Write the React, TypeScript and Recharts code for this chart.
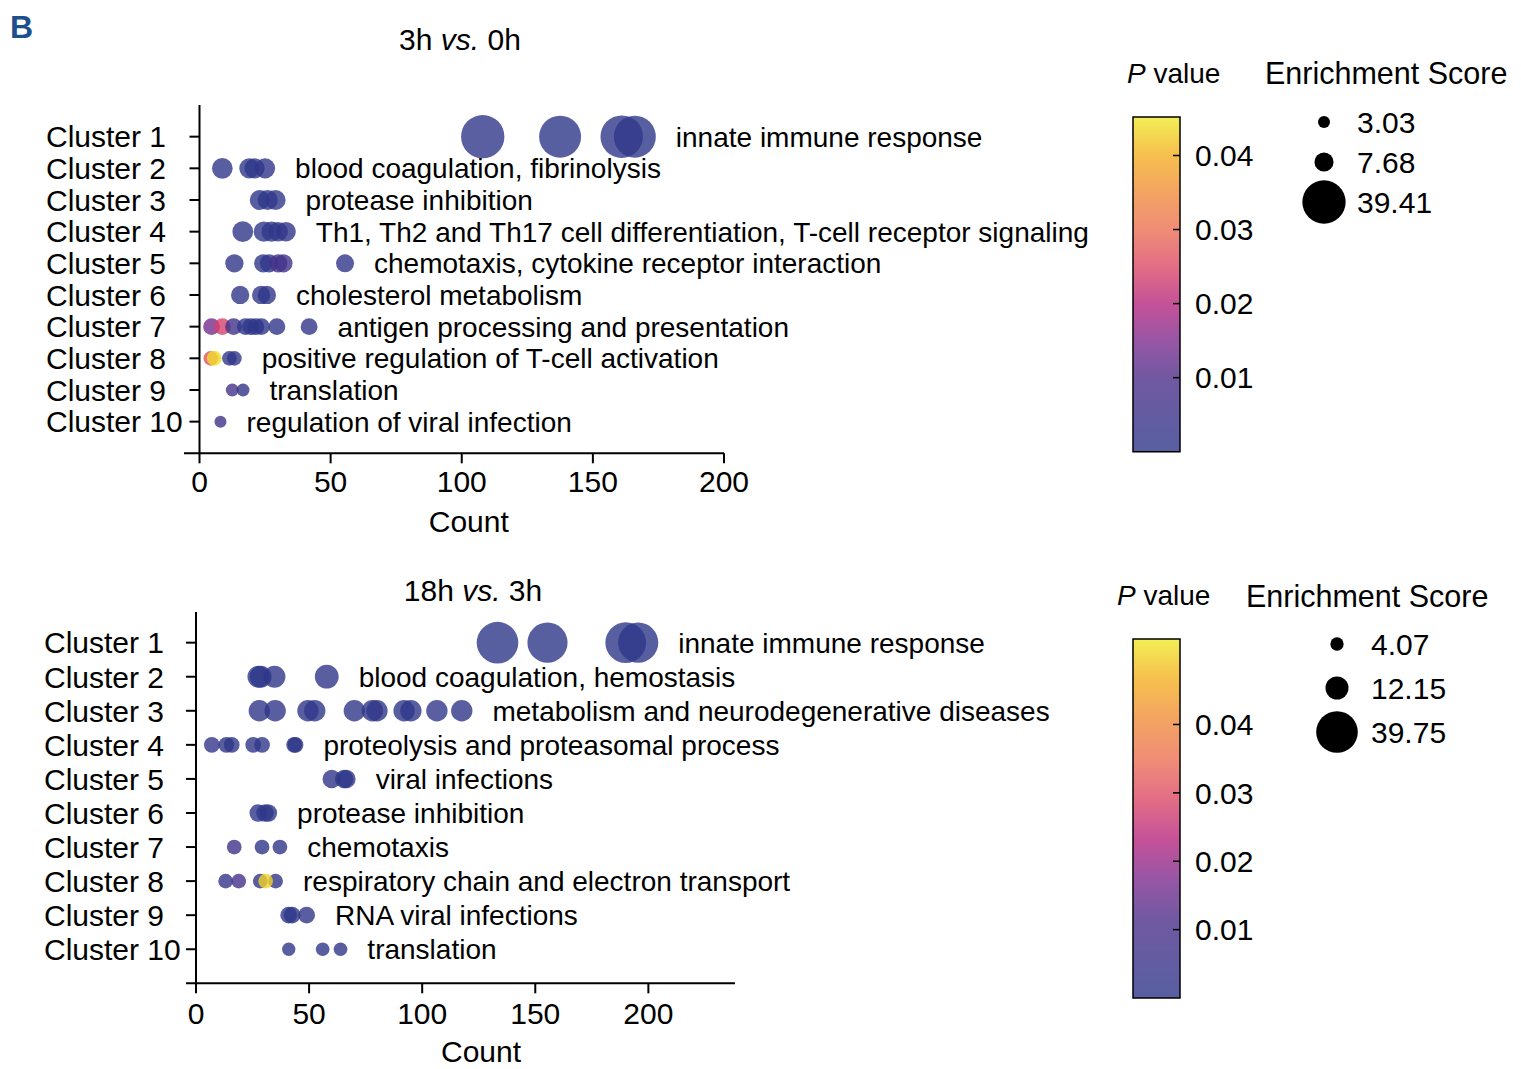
import React from "react";
import {
  ScatterChart,
  Scatter,
  XAxis,
  YAxis,
  ZAxis,
  ReferenceLine,
  BarChart,
  Bar,
} from "recharts";

const FONT = '"Liberation Sans", Arial, Helvetica, sans-serif';

// rows shared by both panels
const clusters = [1, 2, 3, 4, 5, 6, 7, 8, 9, 10];
const countTicks = [0, 50, 100, 150, 200];
const pTicks = [0.01, 0.02, 0.03, 0.04];

// 3h vs. 0h : [cluster, count, enrichment score, P value]
const bubbles3h: number[][] = [
  [1, 108, 39.41, 0.0005], [1, 137.5, 37, 0.0004], [1, 161, 38, 0.0006], [1, 166, 37, 0.0003],
  [2, 8.7, 9, 0.001], [2, 19, 8.5, 0.0004], [2, 21, 8.5, 0.0003], [2, 25, 8.5, 0.0012],
  [3, 23, 8.5, 0.0004], [3, 26, 8.5, 0.0003], [3, 29, 8.5, 0.0006],
  [4, 16.5, 9, 0.001], [4, 24.5, 8.5, 0.0005], [4, 27.5, 8.5, 0.0003], [4, 30, 8, 0.0006], [4, 33, 8, 0.0012],
  [5, 13.3, 7, 0.0012], [5, 24.3, 7, 0.0005], [5, 26.5, 7, 0.0004], [5, 30, 7, 0.008], [5, 32, 7, 0.006], [5, 55.5, 6.8, 0.0012],
  [6, 15.5, 7, 0.001], [6, 23.5, 7, 0.0006], [6, 25.7, 7, 0.0008],
  [7, 4.6, 6, 0.014], [7, 8.7, 6, 0.024], [7, 13, 6, 0.006], [7, 17.5, 6, 0.0005], [7, 19.5, 6, 0.0004],
  [7, 21.5, 6, 0.0003], [7, 23.6, 6, 0.0008], [7, 29.5, 6, 0.0012], [7, 41.8, 6, 0.002],
  [8, 4.3, 4.5, 0.026], [8, 5.6, 4.7, 0.044], [8, 11.4, 4.5, 0.0005], [8, 13.3, 4.5, 0.001],
  [9, 12.5, 3.5, 0.007], [9, 16.6, 3.5, 0.002],
  [10, 8, 3.03, 0.006],
];
const terms3h = [
  "innate immune response",
  "blood coagulation, fibrinolysis",
  "protease inhibition",
  "Th1, Th2 and Th17 cell differentiation, T-cell receptor signaling",
  "chemotaxis, cytokine receptor interaction",
  "cholesterol metabolism",
  "antigen processing and presentation",
  "positive regulation of T-cell activation",
  "translation",
  "regulation of viral infection",
];
const scoreLegend3h = [3.03, 7.68, 39.41];
const pMax3h = 0.0452;

// 18h vs. 3h
const bubbles18h: number[][] = [
  [1, 133.3, 39.75, 0.0005], [1, 155.4, 37, 0.0005], [1, 190, 38, 0.0004], [1, 195.5, 37, 0.0003],
  [2, 27.6, 11, 0.0003], [2, 28.6, 11, 0.0004], [2, 34.7, 11, 0.001], [2, 57.8, 13, 0.0012],
  [3, 28, 10.5, 0.001], [3, 35, 10.5, 0.0012], [3, 49.5, 10.5, 0.001], [3, 52.5, 10.5, 0.0004],
  [3, 70, 10.5, 0.0012], [3, 78, 10.5, 0.0005], [3, 80, 10.5, 0.0008], [3, 92, 10.5, 0.0005],
  [3, 95, 10.5, 0.0004], [3, 106.5, 10.5, 0.0006], [3, 117.5, 10.5, 0.0012],
  [4, 7, 5.7, 0.002], [4, 13.4, 5.7, 0.0012], [4, 15.8, 5.7, 0.001], [4, 25.3, 5.7, 0.0012],
  [4, 29.2, 5.7, 0.0006], [4, 43.4, 5.7, 0.0003], [4, 44, 5.7, 0.0004],
  [5, 60, 7.8, 0.0012], [5, 65.5, 7.8, 0.0005], [5, 66.5, 7.8, 0.0004],
  [6, 27.5, 7, 0.001], [6, 30.5, 7, 0.0005], [6, 32, 7, 0.0004],
  [7, 16.9, 5, 0.007], [7, 29.2, 5, 0.0012], [7, 37.1, 5, 0.001],
  [8, 13.1, 5, 0.002], [8, 18.9, 5, 0.008], [8, 28.4, 5, 0.001], [8, 35.2, 5, 0.0012], [8, 30.8, 5, 0.05],
  [9, 41, 6.5, 0.0003], [9, 42.5, 6.5, 0.0004], [9, 48.9, 6.5, 0.0012],
  [10, 41, 4.07, 0.0012], [10, 56, 4.3, 0.001], [10, 63.9, 4.3, 0.0012],
];
const terms18h = [
  "innate immune response",
  "blood coagulation, hemostasis",
  "metabolism and neurodegenerative diseases",
  "proteolysis and proteasomal process",
  "viral infections",
  "protease inhibition",
  "chemotaxis",
  "respiratory chain and electron transport",
  "RNA viral infections",
  "translation",
];
const scoreLegend18h = [4.07, 12.15, 39.75];
const pMax18h = 0.0525;

// plasma-like colour map, position 0..1 of the P value scale
const pColors: [number, string][] = [
  [0, "#2d378a"],
  [0.22, "#4d2f8a"],
  [0.33, "#7d2c8f"],
  [0.44, "#b5267e"],
  [0.55, "#da4868"],
  [0.66, "#eb6f54"],
  [0.78, "#f08e3a"],
  [0.885, "#f4af21"],
  [1, "#efea2b"],
];
const ALPHA = 0.8;

const hex = (c: string) => [1, 3, 5].map((i) => parseInt(c.slice(i, i + 2), 16));

function pColor(t: number) {
  const v = Math.max(0, Math.min(1, t));
  for (let i = 1; i < pColors.length; i++) {
    const [t1, c1] = pColors[i];
    const [t0, c0] = pColors[i - 1];
    if (v <= t1) {
      const f = (v - t0) / (t1 - t0);
      const a = hex(c0);
      const b = hex(c1);
      return `rgb(${a.map((x, k) => Math.round(x + (b[k] - x) * f)).join(",")})`;
    }
  }
  return pColors[pColors.length - 1][1];
}

type Bubble = { cluster: number; count: number; score: number; p: number };

const toBubbles = (rows: number[][]): Bubble[] =>
  rows.map(([cluster, count, score, p]) => ({ cluster, count, score, p }));

// rightmost bubble of each row carries the term label
function rowLabels(bubbles: Bubble[], terms: string[]) {
  return clusters.map((c, i) => {
    const row = bubbles.filter((b) => b.cluster === c);
    const last = row.reduce((a, b) => (b.count > a.count ? b : a));
    return { ...last, term: terms[i] };
  });
}

const Txt = ({ x, y, size = 30, children, anchor = "start", weight = 400, color = "#000" }: any) => (
  <div
    style={{
      position: "absolute",
      left: x,
      top: y,
      fontSize: size,
      lineHeight: 1,
      fontWeight: weight,
      color,
      whiteSpace: "nowrap",
      transform: `translate(${anchor === "middle" ? "-50%" : "0"}, -50%)`,
    }}
  >
    {children}
  </div>
);

interface PanelLayout {
  top: number;
  width: number;
  height: number;
  plotLeft: number;
  plotTop: number;
  plotBottom: number;
  plotRight: number;
  xAxisHeight: number;
  labelLeft: number;
  axisStart: number;
  countDx: number;
  countOffset: number;
  tickMargin: number;
}

function BubblePanel({
  rows,
  terms,
  pMax,
  zMax,
  xMax,
  yMin,
  L,
}: {
  rows: number[][];
  terms: string[];
  pMax: number;
  zMax: number;
  xMax: number;
  yMin: number;
  L: PanelLayout;
}) {
  const bubbles = toBubbles(rows);
  const labels = rowLabels(bubbles, terms);
  const pxPerUnit = (L.plotRight - L.plotLeft) / xMax;
  const ext = (L.plotLeft - L.axisStart) / pxPerUnit;

  return (
    <div style={{ position: "absolute", left: 0, top: L.top, width: L.width, height: L.height }}>
      <ScatterChart
        width={L.width}
        height={L.height}
        margin={{
          top: L.plotTop - L.top,
          right: L.width - L.plotRight,
          left: 0,
          bottom: L.top + L.height - L.plotBottom - L.xAxisHeight,
        }}
      >
        <XAxis
          type="number"
          dataKey="count"
          domain={[0, xMax]}
          ticks={countTicks}
          height={L.xAxisHeight}
          axisLine={false}
          tickSize={10}
          tickMargin={L.tickMargin}
          tickLine={{ stroke: "#000", strokeWidth: 2 }}
          tick={{ fontSize: 30, fill: "#000" }}
          label={{
            value: "Count",
            position: "insideBottom",
            offset: L.countOffset,
            dx: L.countDx,
            fontSize: 30,
            fill: "#000",
          }}
        />
        <YAxis
          type="number"
          dataKey="cluster"
          domain={[yMin, 11]}
          reversed
          ticks={clusters}
          interval={0}
          width={L.plotLeft}
          axisLine={{ stroke: "#000", strokeWidth: 2 }}
          tickLine={{ stroke: "#000", strokeWidth: 2 }}
          tickSize={10}
          tick={(p: any) => (
            <text x={L.labelLeft} y={p.y} dy="0.36em" fontSize={30} fill="#000" textAnchor="start">
              {`Cluster ${p.payload.value}`}
            </text>
          )}
        />
        <ZAxis type="number" dataKey="score" domain={[0, 40]} range={[0, zMax]} />
        <ReferenceLine
          segment={[
            { x: -ext, y: 11 },
            { x: xMax, y: 11 },
          ]}
          stroke="#000"
          strokeWidth={2}
          ifOverflow="visible"
        />
        <Scatter
          data={bubbles}
          isAnimationActive={false}
          shape={(p: any) => (
            <circle
              cx={p.cx}
              cy={p.cy}
              r={p.width / 2}
              fill={pColor((p.payload ?? p).p / pMax)}
              fillOpacity={ALPHA}
            />
          )}
        />
        <Scatter
          data={labels}
          isAnimationActive={false}
          shape={(p: any) => (
            <text x={p.cx + p.width / 2 + 20} y={p.cy} dy="0.36em" fontSize={28} fill="#000">
              {(p.payload ?? p).term}
            </text>
          )}
        />
      </ScatterChart>
    </div>
  );
}

function ColorBar({ pMax, id, left, top, height }: { pMax: number; id: string; left: number; top: number; height: number }) {
  const data = [{ name: "P", v: pMax }];
  const tickLine = { stroke: "#000", strokeWidth: 1.5 };
  return (
    <div style={{ position: "absolute", left: left - 13, top: top - 10 }}>
      <BarChart
        width={170}
        height={height + 25}
        data={data}
        margin={{ top: 10, right: 10, left: 13, bottom: 15 }}
        barCategoryGap={0}
      >
        <defs>
          <linearGradient id={id} x1="0" y1="1" x2="0" y2="0">
            {pColors.map(([t, c]) => (
              <stop key={t} offset={t} stopColor={c} stopOpacity={ALPHA} />
            ))}
          </linearGradient>
        </defs>
        <XAxis dataKey="name" hide />
        <YAxis
          yAxisId="inL"
          orientation="left"
          mirror
          width={0}
          domain={[0, pMax]}
          ticks={pTicks}
          tick={false}
          tickSize={7}
          axisLine={false}
          tickLine={tickLine}
        />
        <YAxis
          yAxisId="val"
          orientation="right"
          width={100}
          domain={[0, pMax]}
          ticks={pTicks}
          tickFormatter={(v: number) => v.toFixed(2)}
          tickSize={-7}
          tickMargin={22}
          axisLine={false}
          tickLine={tickLine}
          tick={{ fontSize: 30, fill: "#000" }}
        />
        <Bar yAxisId="val" dataKey="v" fill={`url(#${id})`} stroke="#000" strokeWidth={1.5} isAnimationActive={false} />
      </BarChart>
    </div>
  );
}

function SizeLegend({
  values,
  zMax,
  dotX,
  firstY,
  step,
  labelGap,
}: {
  values: number[];
  zMax: number;
  dotX: number;
  firstY: number;
  step: number;
  labelGap: number;
}) {
  const data = values.map((score, i) => ({ slot: 0, row: i, score }));
  const left = dotX - 40;
  const plotTop = firstY - step / 2;
  return (
    <div style={{ position: "absolute", left, top: plotTop }}>
      <ScatterChart width={200} height={step * 3 + 30} margin={{ top: 0, right: 0, left: 40, bottom: 30 }}>
        <XAxis type="number" dataKey="slot" domain={[0, 1]} hide />
        <YAxis type="number" dataKey="row" domain={[-0.5, 2.5]} reversed hide />
        <ZAxis type="number" dataKey="score" domain={[0, 40]} range={[0, zMax]} />
        <Scatter
          data={data}
          isAnimationActive={false}
          shape={(p: any) => (
            <g>
              <circle cx={p.cx} cy={p.cy} r={p.width / 2} fill="#000" />
              <text x={p.cx + labelGap} y={p.cy} dy="0.36em" fontSize={30} fill="#000">
                {(p.payload ?? p).score.toFixed(2)}
              </text>
            </g>
          )}
        />
      </ScatterChart>
    </div>
  );
}

const Title = ({ x, y, a, b }: { x: number; y: number; a: string; b: string }) => (
  <Txt x={x} y={y} anchor="middle">
    {a} <i>vs.</i> {b}
  </Txt>
);

const PHeader = ({ x, y }: { x: number; y: number }) => (
  <Txt x={x} y={y} size={28}>
    <i>P</i> value
  </Txt>
);

export default function App() {
  const top: PanelLayout = {
    top: 0,
    width: 1110,
    height: 560,
    plotLeft: 199.5,
    plotTop: 105,
    plotBottom: 453.3,
    plotRight: 724,
    xAxisHeight: 100,
    labelLeft: 46,
    axisStart: 184,
    countDx: 7,
    countOffset: 21.3,
    tickMargin: 7,
  };
  const bottom: PanelLayout = {
    top: 570,
    width: 1110,
    height: 499,
    plotLeft: 196,
    plotTop: 612,
    plotBottom: 983.3,
    plotRight: 735,
    xAxisHeight: 85,
    labelLeft: 44,
    axisStart: 186,
    countDx: 15.5,
    countOffset: 6,
    tickMargin: 9,
  };

  return (
    <div
      style={{
        position: "absolute",
        left: 0,
        top: 0,
        width: 1521,
        height: 1069,
        background: "#fff",
        fontFamily: FONT,
        overflow: "hidden",
      }}
    >
      <Txt x={10} y={27} size={32} weight={700} color="#1d4f8c">
        B
      </Txt>
      <Title x={460} y={40} a="3h" b="0h" />
      <Title x={473} y={591} a="18h" b="3h" />

      <BubblePanel rows={bubbles3h} terms={terms3h} pMax={pMax3h} zMax={1496} xMax={200} yMin={0} L={top} />
      <BubblePanel rows={bubbles18h} terms={terms18h} pMax={pMax18h} zMax={1368} xMax={238.3} yMin={0.1} L={bottom} />

      <PHeader x={1127} y={74} />
      <Txt x={1265} y={73} size={30.5}>
        Enrichment Score
      </Txt>
      <ColorBar pMax={pMax3h} id="pgrad3h" left={1133} top={117.3} height={334.7} />
      <SizeLegend values={scoreLegend3h} zMax={1496} dotX={1324} firstY={122} step={40} labelGap={33} />

      <PHeader x={1117} y={596} />
      <Txt x={1246} y={596} size={30.5}>
        Enrichment Score
      </Txt>
      <ColorBar pMax={pMax18h} id="pgrad18h" left={1133} top={639} height={359} />
      <SizeLegend values={scoreLegend18h} zMax={1368} dotX={1336.7} firstY={643.5} step={44} labelGap={34} />
    </div>
  );
}
